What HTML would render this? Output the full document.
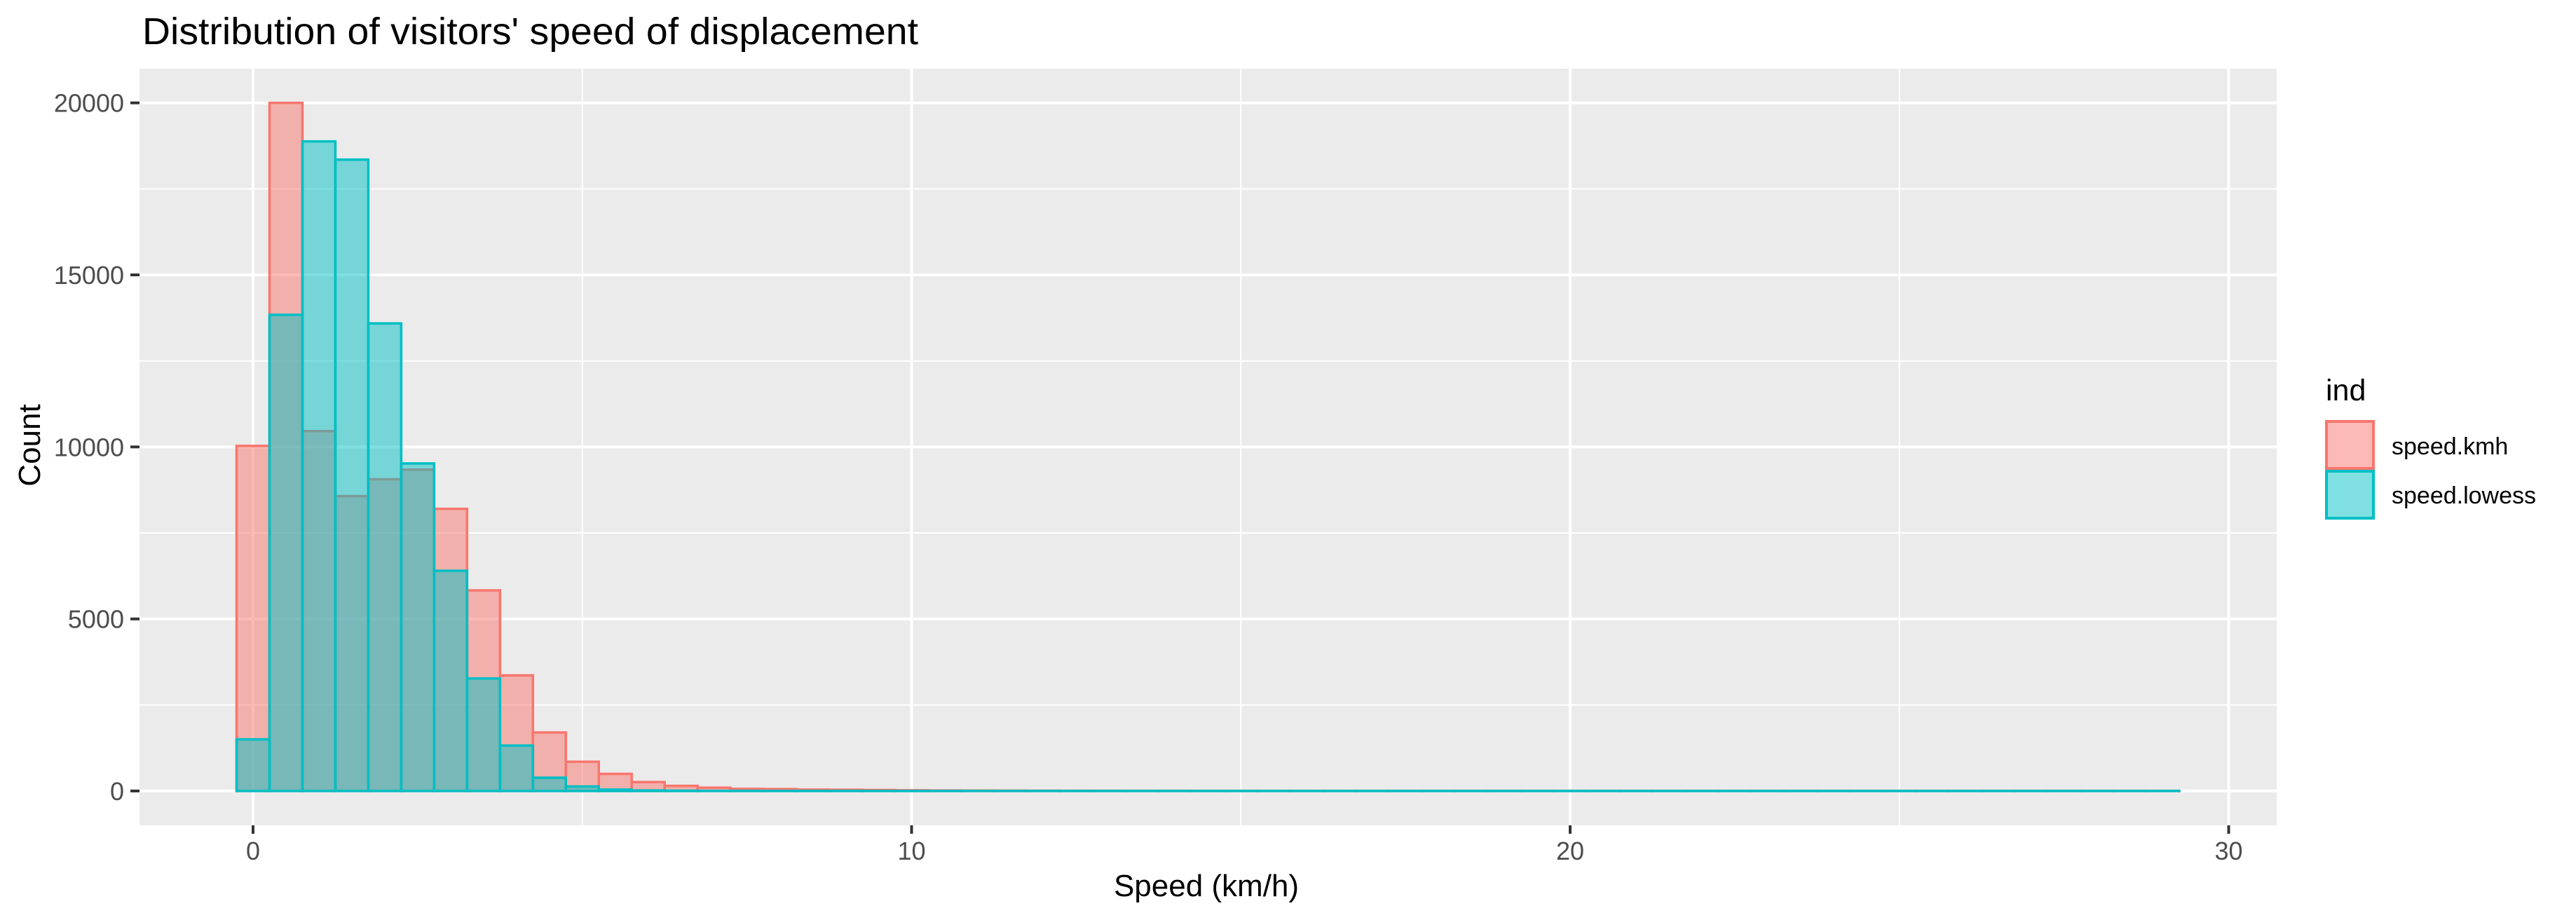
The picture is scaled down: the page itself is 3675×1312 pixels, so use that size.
<!DOCTYPE html>
<html><head><meta charset="utf-8"><style>
html,body{margin:0;padding:0;background:#fff;}
svg{display:block;font-family:"Liberation Sans",Arial,sans-serif;}
</style></head><body>
<svg id="chart" width="3675" height="1312" viewBox="0 0 3675 1312" xmlns="http://www.w3.org/2000/svg">
<rect x="0" y="0" width="3675" height="1312" fill="#fff"/>
<text x="203" y="63" font-size="54" fill="#000" textLength="1107" lengthAdjust="spacingAndGlyphs">Distribution of visitors' speed of displacement</text>
<rect x="199" y="98" width="3049" height="1079" fill="#ebebeb"/>
<g id="grid"></g>
<g id="bars"></g>
<g id="axes"></g>
<text x="1721" y="1278" font-size="44" text-anchor="middle" fill="#000">Speed (km/h)</text>
<text transform="translate(57,635) rotate(-90)" font-size="44" text-anchor="middle" fill="#000">Count</text>
<g>
<text x="3318" y="571" font-size="43" fill="#000">ind</text>
<g>
<rect x="3317" y="599" width="71" height="71" fill="#fff"/>
<rect x="3319" y="601" width="67" height="67" fill="#F8766D" fill-opacity="0.5" stroke="#F8766D" stroke-width="4"/>
<text x="3412" y="648" font-size="34" fill="#000">speed.kmh</text>
</g>
<g>
<rect x="3317" y="670" width="71" height="71" fill="#fff"/>
<rect x="3319" y="672" width="67" height="67" fill="#00BFC4" fill-opacity="0.5" stroke="#00BFC4" stroke-width="4"/>
<text x="3412" y="718" font-size="34" fill="#000">speed.lowess</text>
</g>
</g>
</svg>
<script>
const binCenters = [0,0.5,1,1.5,2,2.5,3,3.5,4,4.5,5,5.5,6,6.5,7,7.5,8,8.5,9,9.5,10,10.5,11,11.5,12,12.5,13,13.5,14,14.5,15,15.5,16,16.5,17,17.5,18,18.5,19,19.5,20,20.5,21,21.5,22,22.5,23,23.5,24,24.5,25,25.5,26,26.5,27,27.5,28,28.5,29];
const kmhCounts = [10030,20000,10460,8570,9060,9340,8200,5830,3360,1700,850,497,259,149,96,61,55,40,35,30,20,15,12,10,8,6,5,4,4,3,3,2,2,2,2,1,1,1,1,1,1,1,1,1,1,1,1,1,1,1,1,1,1,1,1,1,1,1,1];
const lowessCounts = [1500,13840,18880,18350,13590,9520,6400,3270,1320,385,130,40,15,8,5,3,2,2,1,1,1,1,1,1,1,1,1,1,1,1,1,1,1,1,1,1,1,1,1,1,1,1,1,1,1,1,1,1,1,1,1,1,1,1,1,1,1,1,1];
const binWidth = 0.5;
const xTicks = [0,10,20,30];
const xMinor = [5,15,25];
const yTicks = [0,5000,10000,15000,20000];
const yMinor = [2500,7500,12500,17500];

const NS = "http://www.w3.org/2000/svg";
const P = {l:199, r:3248, t:98, b:1177};
function xs(v){ return 361 + v * 93.95; }
function ys(v){ return 1128 - v * (981.3/20000); }
function mk(tag, attrs, parent){
  const e = document.createElementNS(NS, tag);
  for (const k in attrs) e.setAttribute(k, attrs[k]);
  parent.appendChild(e);
  return e;
}
const grid = document.getElementById('grid');
const bars = document.getElementById('bars');
const axes = document.getElementById('axes');

yMinor.forEach(v=>{
  const l = mk('line',{x1:P.l,x2:P.r,y1:ys(v),y2:ys(v),stroke:'#fff','stroke-width':2},grid);
  
  
});
xMinor.forEach(v=>{
  const l = mk('line',{x1:xs(v),x2:xs(v),y1:P.t,y2:P.b,stroke:'#fff','stroke-width':2},grid);
  
  
});
yTicks.forEach(v=>{
  const l = mk('line',{x1:P.l,x2:P.r,y1:ys(v),y2:ys(v),stroke:'#fff','stroke-width':4},grid);
  
  
  const t = mk('line',{x1:186,x2:P.l,y1:ys(v),y2:ys(v),stroke:'#333','stroke-width':4},axes);
  
  
  const tx = mk('text',{x:177,y:ys(v)+13,'font-size':36,'text-anchor':'end',fill:'#4d4d4d'},axes);
  tx.textContent = String(v);
  
  
});
xTicks.forEach(v=>{
  const l = mk('line',{x1:xs(v),x2:xs(v),y1:P.t,y2:P.b,stroke:'#fff','stroke-width':4},grid);
  
  
  const t = mk('line',{x1:xs(v),x2:xs(v),y1:P.b,y2:P.b+12,stroke:'#333','stroke-width':4},axes);
  
  
  const tx = mk('text',{x:xs(v),y:1226,'font-size':36,'text-anchor':'middle',fill:'#4d4d4d'},axes);
  tx.textContent = String(v);
  
  
});

function drawSeries(counts, color, name){
  const g = mk('g',{},bars);
  
  
  counts.forEach((c,i)=>{
    const x0 = xs(binCenters[i]-binWidth/2), x1 = xs(binCenters[i]+binWidth/2);
    const y0 = ys(c), y1 = ys(0);
    const r = mk('rect',{x:x0,y:y0,width:x1-x0,height:Math.max(0,y1-y0),fill:color,'fill-opacity':0.5,stroke:color,'stroke-width':3.5},g);
    
    
  });
}
drawSeries(kmhCounts,'#F8766D','speed-kmh');
drawSeries(lowessCounts,'#00BFC4','speed-lowess');
</script>
</body></html>
